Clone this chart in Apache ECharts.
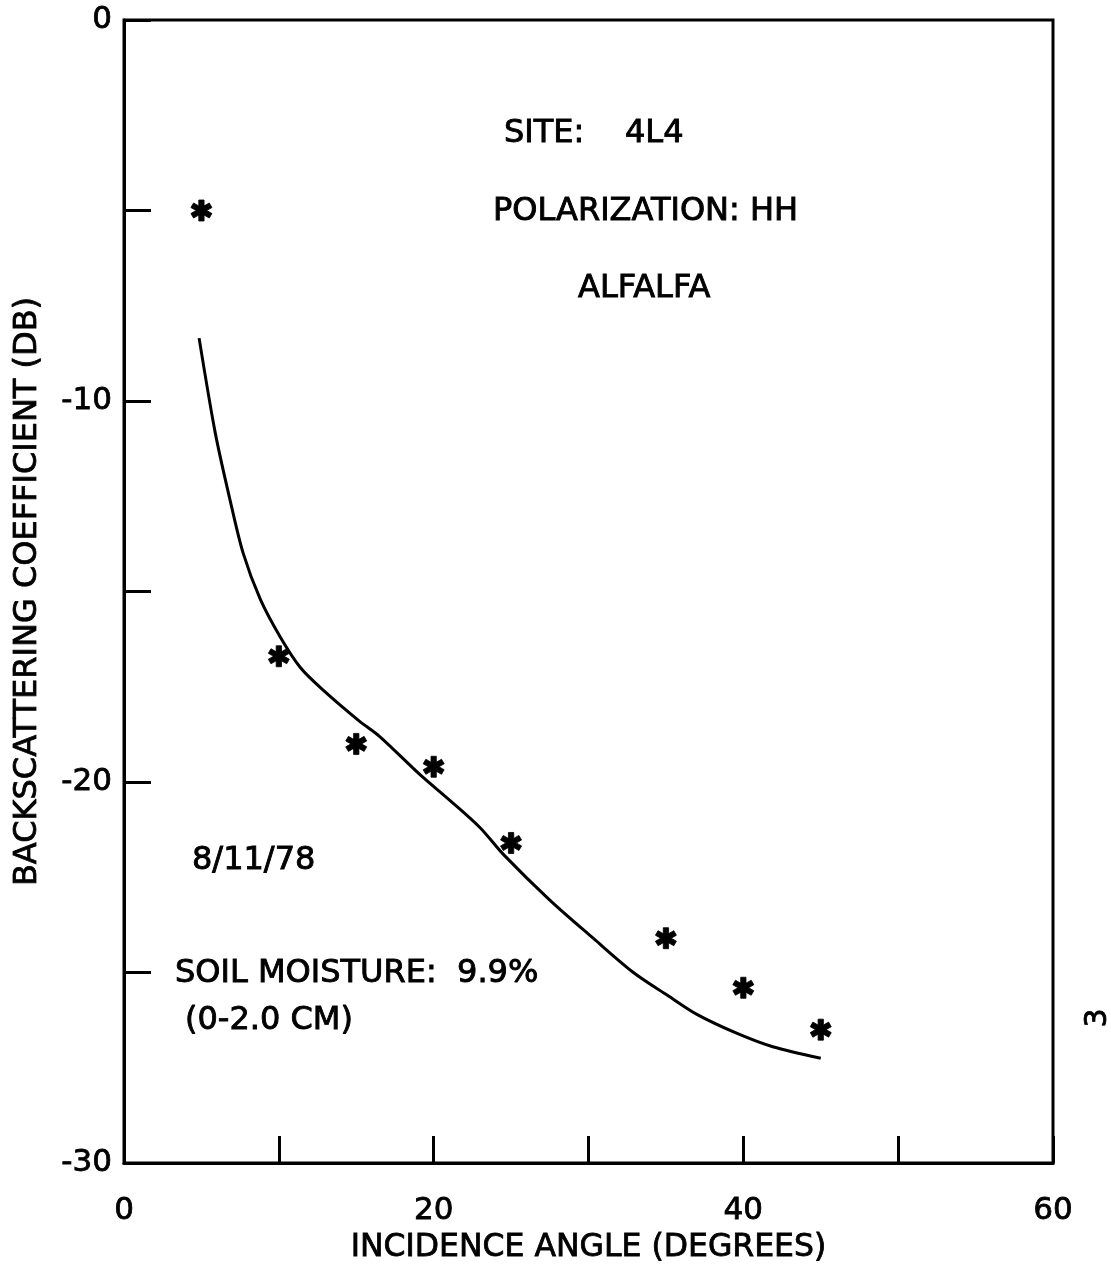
<!DOCTYPE html>
<html>
<head>
<meta charset="utf-8">
<script src="https://cdn.jsdelivr.net/npm/echarts@6/dist/echarts.min.js"></script>
<style>
  html, body { margin: 0; padding: 0; background: #fff; }
  #chart { width: 1111px; height: 1282px; }
</style>
</head>
<body>
<div id="chart"></div>
<script>
// Measured backscatter (asterisks), incidence angle in degrees vs dB
const measAngle = [5, 10, 15, 20, 25, 35, 40, 45];
const measDb    = [-5.0, -16.7, -19.0, -19.6, -21.6, -24.1, -25.4, -26.5];

// Fitted curve
const fitAngle = [4.85, 5.9, 6.85, 7.7, 8.8, 10.1, 11.4, 12.9, 15.2, 16.5, 19.1, 21.1, 23.0, 24.5, 27.5, 30.3, 32.9, 35.1, 37.0, 39.6, 41.9, 45.0];
const fitDb    = [-8.35, -10.85, -12.6, -14.0, -15.2, -16.2, -17.0, -17.6, -18.4, -18.8, -19.8, -20.5, -21.2, -21.9, -23.1, -24.1, -25.0, -25.6, -26.1, -26.6, -26.95, -27.25];

const xTickLabels = { 0: '0', 20: '20', 40: '40', 60: '60' };
const yTickLabels = { 0: '0', '-10': '-10', '-20': '-20', '-30': '-30' };

const FONT = '"DejaVu Sans", "Liberation Sans", sans-serif';

// six-armed asterisk built from three thin bars
function asteriskPath() {
  const L = 10, W = 2.5;
  let d = '';
  for (let k = 0; k < 3; k++) {
    const a = Math.PI / 2 + k * Math.PI / 3;
    const ux = Math.cos(a), uy = Math.sin(a);
    const px = -uy, py = ux;
    const pts = [
      [ L * ux + W * px,  L * uy + W * py],
      [-L * ux + W * px, -L * uy + W * py],
      [-L * ux - W * px, -L * uy - W * py],
      [ L * ux - W * px,  L * uy - W * py]
    ];
    d += 'M' + pts.map(p => (p[0] + 12).toFixed(2) + ' ' + (p[1] + 12).toFixed(2)).join('L') + 'Z';
  }
  return 'path://' + d;
}

const chart = echarts.init(document.getElementById('chart'));

function note(text, x, y) {
  return {
    type: 'text', x: x, y: y,
    style: {
      text: text, fill: '#000', stroke: '#000', lineWidth: 0.9,
      font: 'normal 32px ' + FONT, align: 'left', verticalAlign: 'middle'
    }
  };
}

const labelStyle = { color: '#000', fontFamily: FONT, textBorderColor: '#000', textBorderWidth: 0.8 };

chart.setOption({
  backgroundColor: '#fff',
  animation: false,
  grid: {
    left: 124, right: 58, top: 20, bottom: 119,
    show: true, borderColor: '#000', borderWidth: 3, backgroundColor: 'transparent'
  },
  xAxis: {
    type: 'value', min: 0, max: 60, interval: 10,
    name: 'INCIDENCE ANGLE (DEGREES)',
    nameLocation: 'middle', nameGap: 66,
    nameTextStyle: Object.assign({ fontSize: 31.5 }, labelStyle),
    axisLine: { show: true, onZero: false, lineStyle: { color: '#000', width: 3 } },
    axisTick: { show: true, inside: true, length: 27, lineStyle: { color: '#000', width: 3 } },
    axisLabel: Object.assign({
      fontSize: 31, margin: 32,
      formatter: v => xTickLabels[v] || ''
    }, labelStyle),
    splitLine: { show: false }
  },
  yAxis: {
    type: 'value', min: -30, max: 0, interval: 5,
    name: 'BACKSCATTERING COEFFICIENT (DB)',
    nameLocation: 'middle', nameGap: 80,
    nameTextStyle: Object.assign({ fontSize: 32 }, labelStyle),
    axisLine: { show: true, onZero: false, lineStyle: { color: '#000', width: 3 } },
    axisTick: { show: true, inside: true, length: 27, lineStyle: { color: '#000', width: 3 } },
    axisLabel: Object.assign({
      fontSize: 31, margin: 12,
      formatter: v => yTickLabels[String(v)] || ''
    }, labelStyle),
    splitLine: { show: false }
  },
  series: [
    {
      type: 'line',
      data: fitAngle.map((a, i) => [a, fitDb[i]]),
      smooth: 0.3,
      showSymbol: false,
      lineStyle: { color: '#000', width: 3 },
      z: 2
    },
    {
      type: 'scatter',
      data: measAngle.map((a, i) => [a, measDb[i]]),
      symbol: asteriskPath(),
      symbolSize: 21,
      itemStyle: { color: '#000', borderColor: '#000', borderWidth: 0.8, opacity: 1 },
      z: 3
    }
  ],
  graphic: [
    note('SITE:    4L4', 504, 134),
    note('POLARIZATION: HH', 493, 212),
    note('ALFALFA', 578, 289),
    note('8/11/78', 192, 861),
    note('SOIL MOISTURE:  9.9%', 175, 974),
    note('(0-2.0 CM)', 185, 1021),
    { type: 'text', x: 1098, y: 1018, rotation: Math.PI / 2,
      style: { text: '3', fill: '#000', stroke: '#000', lineWidth: 0.8, font: 'normal 30px ' + FONT, align: 'center', verticalAlign: 'middle' } }
  ]
});
</script>
</body>
</html>
